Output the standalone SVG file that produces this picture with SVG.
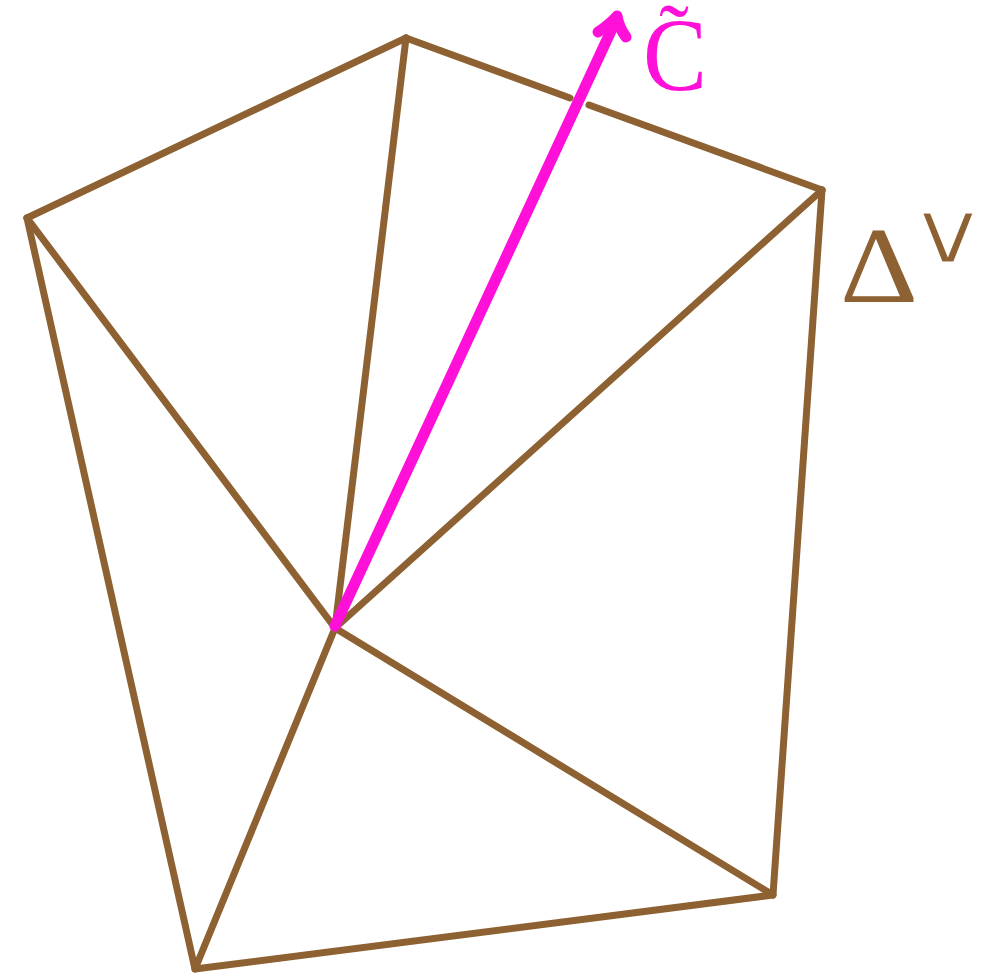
<svg xmlns="http://www.w3.org/2000/svg" width="985" height="977" viewBox="0 0 985 977">
<style>
.e{stroke:#8e6132;stroke-width:7;stroke-linecap:round;stroke-linejoin:round;fill:none}
.a{stroke:#ff10d8;stroke-width:11;stroke-linecap:round;stroke-linejoin:round;fill:none}
.t{font-family:"Liberation Serif","DejaVu Serif",serif}
</style>
<rect width="985" height="977" fill="#fff"/>
<g id="connectors">
<path class="e" d="M27,218 L406,38"/>
<path class="e" d="M406,38 L570,98"/>
<path class="e" d="M589,105 L822,190"/>
<path class="e" d="M822,190 L773,895 L195,969 L27,218"/>
<path class="e" d="M335,628 L27,218"/>
<path class="e" d="M335,628 L406,38"/>
<path class="e" d="M335,628 L822,190"/>
<path class="e" d="M335,628 L773,895"/>
<path class="e" d="M335,628 L195,969"/>
</g>
<g id="arrow">
<path class="a" d="M335,626 L617,18"/>
<path class="a" d="M598,32 Q610,24 617,16 Q619,28 626,37"/>
</g>
<g id="label-c">
<text class="t" x="643" y="90" font-size="104" fill="#ff10d8" textLength="64" lengthAdjust="spacingAndGlyphs">C</text>
<text class="t" x="659" y="67" font-size="90" fill="#ff10d8">˜</text>
</g>
<g id="label-delta">
<text class="t" x="840" y="302" font-size="108" fill="#8e6132" textLength="78" lengthAdjust="spacingAndGlyphs">Δ</text>
<text transform="translate(948,263) scale(1.3,1)" text-anchor="middle" font-family="DejaVu Sans ExtraLight, DejaVu Sans, sans-serif" font-size="88" font-weight="200" fill="#8e6132" stroke="#fff" stroke-width="3" paint-order="fill">∨</text>
</g>
</svg>
